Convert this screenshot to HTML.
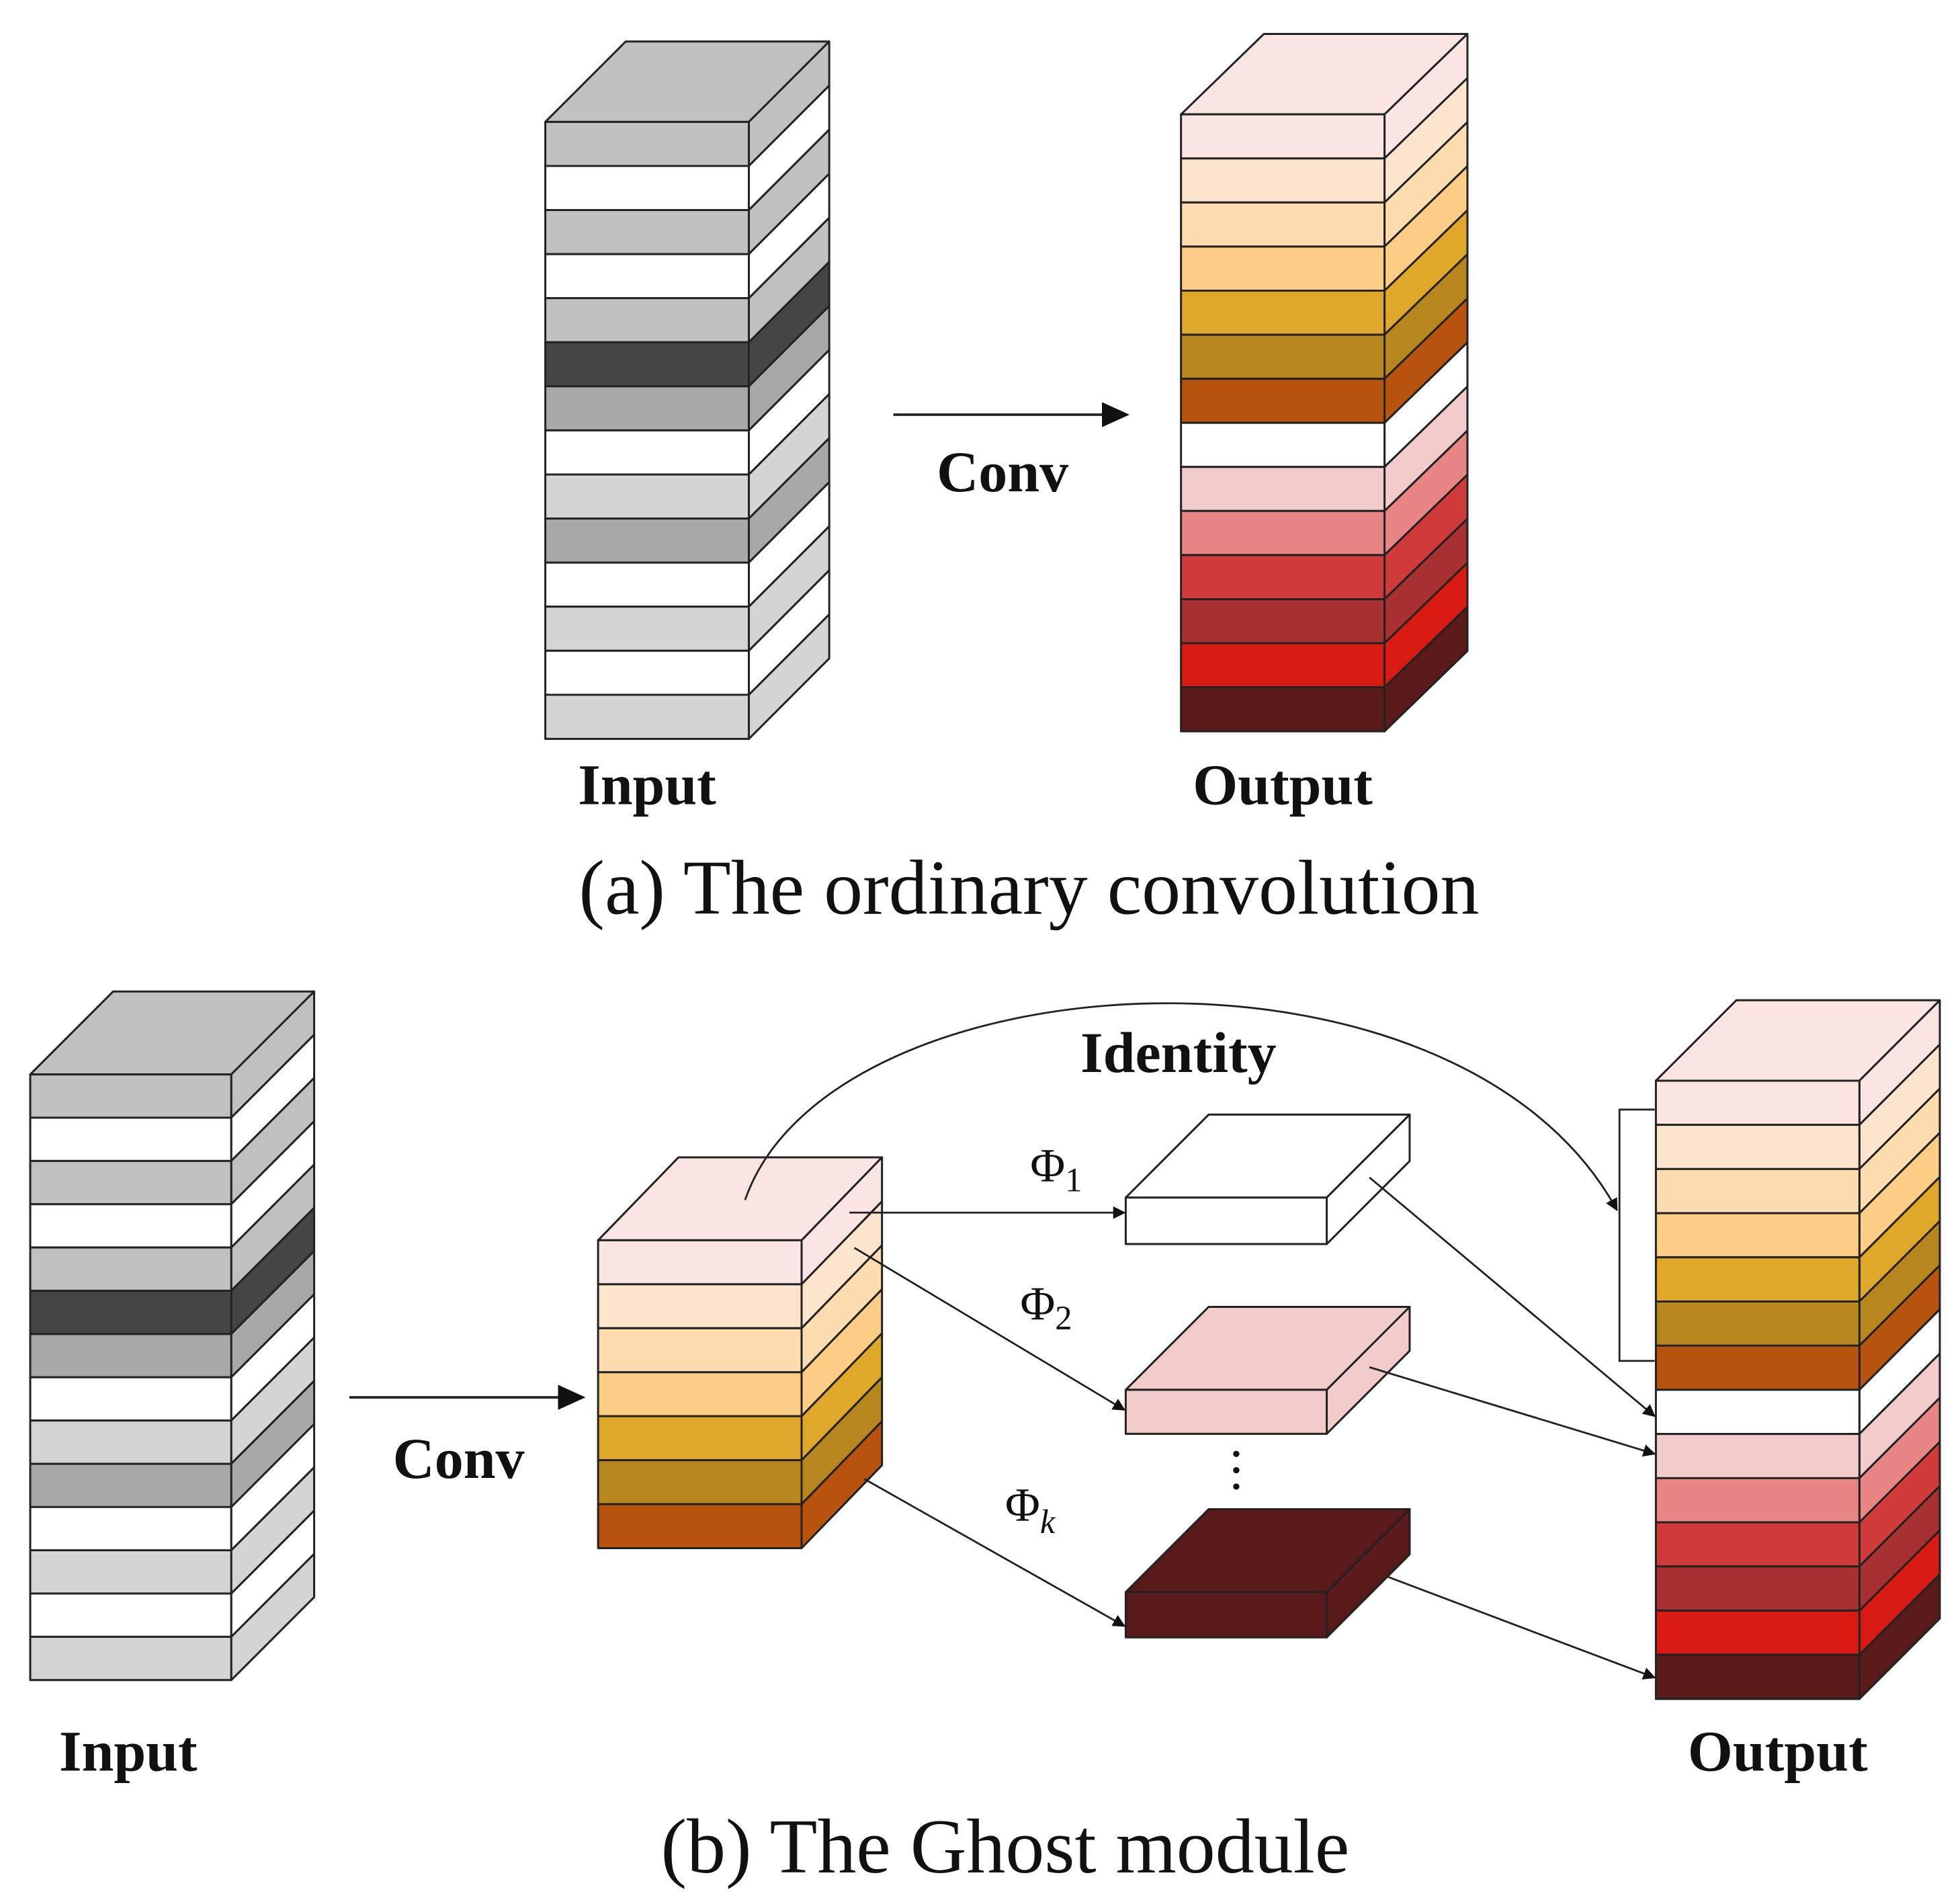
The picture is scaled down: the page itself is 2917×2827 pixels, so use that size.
<!DOCTYPE html>
<html><head><meta charset="utf-8"><style>
html,body{margin:0;padding:0;background:#fff;}
svg{display:block;}
text{font-family:"Liberation Serif",serif;fill:#111;}
</style></head><body>
<svg id="s" width="2917" height="2827" viewBox="0 0 1560 1512" xmlns="http://www.w3.org/2000/svg">
<defs><marker id="ah" markerWidth="10" markerHeight="10" refX="9" refY="5" orient="auto" markerUnits="userSpaceOnUse"><path d="M0,0 L10,5 L0,10 z" fill="#111"/></marker>
<marker id="ahb" markerWidth="22" markerHeight="20" refX="20" refY="10" orient="auto" markerUnits="userSpaceOnUse"><path d="M0,0 L22,10 L0,20 z" fill="#111"/></marker></defs>
<g id="g"></g>
<!-- (a) -->
<line x1="711" y1="330" x2="897" y2="330" stroke="#222" stroke-width="2" marker-end="url(#ahb)"/>
<text x="798" y="391" font-size="46" font-weight="bold" text-anchor="middle">Conv</text>
<text x="515" y="640" font-size="46" font-weight="bold" text-anchor="middle">Input</text>
<text x="1021" y="640" font-size="46" font-weight="bold" text-anchor="middle">Output</text>
<text x="819" y="727" font-size="62" text-anchor="middle">(a) The ordinary convolution</text>
<!-- (b) -->
<line x1="278" y1="1112" x2="464" y2="1112" stroke="#222" stroke-width="2" marker-end="url(#ahb)"/>
<text x="365" y="1176" font-size="46" font-weight="bold" text-anchor="middle">Conv</text>
<text x="102" y="1409" font-size="46" font-weight="bold" text-anchor="middle">Input</text>
<text x="1415" y="1409" font-size="46" font-weight="bold" text-anchor="middle">Output</text>
<text x="800" y="1490" font-size="62" text-anchor="middle">(b) The Ghost module</text>
<text x="938" y="853" font-size="46" font-weight="bold" text-anchor="middle">Identity</text>
<text x="820" y="940" font-size="38">Φ<tspan font-size="27" dy="8">1</tspan></text>
<text x="812" y="1050" font-size="38">Φ<tspan font-size="27" dy="8">2</tspan></text>
<text x="800" y="1210" font-size="38">Φ<tspan font-size="27" dy="10" font-style="italic">k</tspan></text>
<circle cx="984" cy="1157" r="2.5" fill="#111"/><circle cx="984" cy="1170" r="2.5" fill="#111"/><circle cx="984" cy="1183" r="2.5" fill="#111"/>
<g stroke="#222" stroke-width="1.5" fill="none">
<path d="M593,955 C660,760 1160,730 1287,963" marker-end="url(#ah)"/>
<line x1="676" y1="965" x2="895" y2="965" marker-end="url(#ah)"/>
<line x1="680" y1="993" x2="895" y2="1122" marker-end="url(#ah)"/>
<line x1="688" y1="1177" x2="895" y2="1294" marker-end="url(#ah)"/>
<line x1="1090" y1="937" x2="1317" y2="1127" marker-end="url(#ah)"/>
<line x1="1090" y1="1088" x2="1317" y2="1157" marker-end="url(#ah)"/>
<line x1="1105" y1="1255" x2="1317" y2="1335" marker-end="url(#ah)"/>
<path d="M1317,883 L1289,883 L1289,1083 L1317,1083"/>
</g>
</svg>
<script>
var g=document.getElementById('g'),NS='http://www.w3.org/2000/svg';
function poly(pts,fill){var p=document.createElementNS(NS,'polygon');p.setAttribute('points',pts.map(function(a){return a.join(',')}).join(' '));p.setAttribute('fill',fill);p.setAttribute('stroke','#222');p.setAttribute('stroke-width','1.6');p.setAttribute('stroke-linejoin','round');g.appendChild(p);}
function stack(x0,x1,yt,yb,dx,dy,cols){var n=cols.length,h=(yb-yt)/n;
poly([[x0,yt],[x0+dx,yt-dy],[x1+dx,yt-dy],[x1,yt]],cols[0]);
for(var i=0;i<n;i++){var a=yt+i*h,b=a+h;
poly([[x1,a],[x1+dx,a-dy],[x1+dx,b-dy],[x1,b]],cols[i]);
poly([[x0,a],[x1,a],[x1,b],[x0,b]],cols[i]);}}
var gi=['#c0c0c0','#fff','#c0c0c0','#fff','#c0c0c0','#454545','#a8a8a8','#fff','#d4d4d4','#a8a8a8','#fff','#d4d4d4','#fff','#d4d4d4'];
var oc=['#fbe5e3','#fde5cd','#fddcb0','#fdcd85','#e0a82a','#b8861e','#b8530f','#fff','#f2cbcb','#e88585','#d03a3a','#a93030','#d81a12','#5a1a1a'];
stack(434,596,97,588,64,64,gi);
stack(940,1102,91,582,66,64,oc);
stack(24,184,855,1337,66,66,gi);
stack(476,638,987,1232,64,66,oc.slice(0,7));
stack(896,1056,953,990,66,66,['#fff']);
stack(896,1056,1106,1141,66,66,['#f2cbcb']);
stack(896,1056,1267,1303,66,66,['#5a1a1a']);
stack(1318,1480,860,1352,64,64,oc);
</script>
</body></html>
